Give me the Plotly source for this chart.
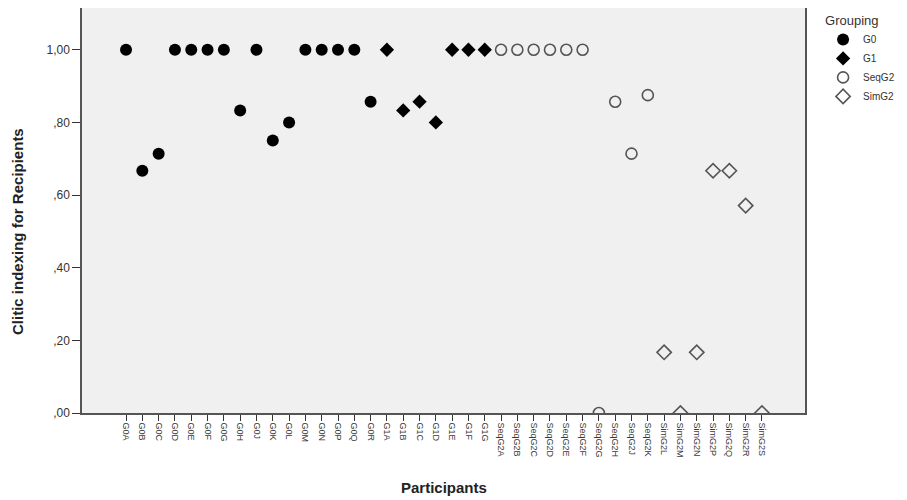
import plotly.graph_objects as go

g0_labels = ["G0A","G0B","G0C","G0D","G0E","G0F","G0G","G0H","G0J","G0K","G0L","G0M","G0N","G0P","G0Q","G0R"]
g0_values = [1.0,0.667,0.714,1.0,1.0,1.0,1.0,0.833,1.0,0.75,0.80,1.0,1.0,1.0,1.0,0.857]
g1_labels = ["G1A","G1B","G1C","G1D","G1E","G1F","G1G"]
g1_values = [1.0,0.833,0.857,0.80,1.0,1.0,1.0]
seq_labels = ["SeqG2A","SeqG2B","SeqG2C","SeqG2D","SeqG2E","SeqG2F","SeqG2G","SeqG2H","SeqG2J","SeqG2K"]
seq_values = [1.0,1.0,1.0,1.0,1.0,1.0,0.0,0.857,0.714,0.875]
sim_labels = ["SimG2L","SimG2M","SimG2N","SimG2P","SimG2Q","SimG2R","SimG2S"]
sim_values = [0.167,0.0,0.167,0.667,0.667,0.571,0.0]

y_tickvals = [0, 0.2, 0.4, 0.6, 0.8, 1.0]
y_ticktext = [",00", ",20", ",40", ",60", ",80", "1,00"]

all_labels = g0_labels + g1_labels + seq_labels + sim_labels

fig = go.Figure()
fig.add_trace(go.Scatter(x=g0_labels, y=g0_values, mode="markers", name="G0",
                         marker=dict(symbol="circle", size=12, color="black")))
fig.add_trace(go.Scatter(x=g1_labels, y=g1_values, mode="markers", name="G1",
                         marker=dict(symbol="diamond", size=11, color="black")))
fig.add_trace(go.Scatter(x=seq_labels, y=seq_values, mode="markers", name="SeqG2",
                         marker=dict(symbol="circle-open", size=11, color="#555555",
                                     line=dict(width=1.6, color="#555555"))))
fig.add_trace(go.Scatter(x=sim_labels, y=sim_values, mode="markers", name="SimG2",
                         marker=dict(symbol="diamond-open", size=11, color="#555555",
                                     line=dict(width=1.6, color="#555555"))))

fig.update_layout(
    width=899, height=492,
    paper_bgcolor="white", plot_bgcolor="#f0f0f0",
    margin=dict(l=74, r=102, t=0, b=87, autoexpand=False),
    font=dict(family="Liberation Sans, Arial, sans-serif", color="#333333", size=12),
    xaxis=dict(type="category", categoryorder="array", categoryarray=all_labels,
               range=[-2.7, 41.64], tickangle=90, tickfont=dict(size=9, color="#3a3a3a"),
               ticks="outside", ticklen=6, tickcolor="#333333", showgrid=False,
               showline=True, linecolor="#555555", linewidth=1.5, mirror=True, zeroline=False,
               automargin=False),
    yaxis=dict(range=[0, 1.115], tickvals=y_tickvals, ticktext=y_ticktext,
               ticks="outside", ticklen=8, tickcolor="#333333", tickfont=dict(size=12, color="#333333"),
               showgrid=False, showline=True, linecolor="#555555", linewidth=1.5, mirror=True, zeroline=False,
               automargin=False),
    legend=dict(x=1.025, y=1.0, xanchor="left", yanchor="top", bgcolor="rgba(0,0,0,0)",
                title=dict(text="Grouping", font=dict(size=13, color="#333333")),
                font=dict(size=10, color="#333333"), itemsizing="trace",
                tracegroupgap=0, itemwidth=30),
    showlegend=True,
)

fig.add_annotation(text="<b>Clitic indexing for Recipients</b>", xref="paper", yref="paper",
                   x=-0.0885, y=0.447, textangle=-90, showarrow=False, xanchor="center", yanchor="middle",
                   font=dict(size=15, color="#222222"))
fig.add_annotation(text="<b>Participants</b>", xref="paper", yref="paper",
                   x=0.5, y=-0.183, showarrow=False, xanchor="center", yanchor="middle",
                   font=dict(size=15, color="#222222"))

fig.write_html("out.html")
